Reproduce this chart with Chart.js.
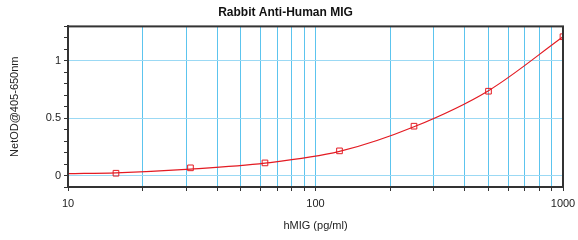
<!DOCTYPE html>
<html>
<head>
<meta charset="utf-8">
<script src="https://cdn.jsdelivr.net/npm/chart.js@4/dist/chart.umd.min.js"></script>
<style>
  html, body { margin: 0; padding: 0; background: #fff; }
  #wrap { width: 578px; height: 240px; }
</style>
</head>
<body>
<div id="wrap"><canvas id="myChart" width="578" height="240"></canvas></div>
<script>
// standards (pg/ml) and measured OD
var concentrations = [15.625, 31.25, 62.5, 125, 250, 500, 1000];
var netOD = [0.02, 0.067, 0.11, 0.215, 0.43, 0.735, 1.21];

// fitted curve
var fitX = [10, 15.625, 31.25, 62.5, 125, 250, 500, 1000];
var fitY = [0.016, 0.024, 0.056, 0.108, 0.21, 0.425, 0.74, 1.21];

var xGridValues = [10, 20, 30, 40, 50, 60, 70, 80, 90, 100, 200, 300, 400, 500, 600, 700, 800, 900, 1000];
var xTickLabels = [10, 100, 1000];
var yTickLabels = [0, 0.5, 1];

var font = "'Liberation Sans', Arial, sans-serif";
Chart.defaults.font.family = font;
Chart.defaults.color = "#222";

var boxPlugin = {
  id: "box",
  afterDraw: function (chart) {
    var a = chart.chartArea;
    var c = chart.ctx;
    c.save();
    c.strokeStyle = "#333";
    c.lineWidth = 2;
    c.strokeRect(a.left, a.top, a.right - a.left, a.bottom - a.top);
    c.restore();
  },
};

function isMajor(v, list) {
  for (var i = 0; i < list.length; i++) {
    if (Math.abs(v - list[i]) < 1e-6) return true;
  }
  return false;
}

var ctx = document.getElementById("myChart");
var myChart = new Chart(ctx, {
  type: "scatter",
  data: {
    datasets: [
      {
        label: "fit",
        data: fitX.map(function (x, i) { return { x: x, y: fitY[i] }; }),
        showLine: true,
        borderColor: "#e31b23",
        borderWidth: 1.2,
        pointRadius: 0,
        cubicInterpolationMode: "monotone",
      },
      {
        label: "Standards",
        data: concentrations.map(function (x, i) { return { x: x, y: netOD[i] }; }),
        showLine: false,
        pointStyle: "rect",
        pointRadius: 4,
        borderColor: "#e31b23",
        backgroundColor: "rgba(255,255,255,0)",
        borderWidth: 1,
      },
    ],
  },
  options: {
    responsive: false,
    animation: false,
    layout: { padding: { left: 8, right: 15, top: 0, bottom: 7 } },
    plugins: {
      legend: { display: false },
      tooltip: { enabled: false },
      title: {
        display: true,
        text: "Rabbit Anti-Human MIG",
        color: "#111",
        font: { size: 12, weight: "bold" },
        padding: { top: 5, bottom: 7 },
      },
    },
    scales: {
      x: {
        type: "logarithmic",
        min: 10,
        max: 1000,
        afterBuildTicks: function (s) {
          s.ticks = xGridValues.map(function (v) { return { value: v }; });
        },
        afterFit: function (s) {
          s.height = 46;
          s.paddingLeft = 0;
          s.paddingRight = 0;
        },
        border: { color: "#333", width: 2 },
        grid: {
          color: function (c) {
            var v = c.tick && c.tick.value;
            if (v === 10 || v === 1000) return "rgba(0,0,0,0)";
            return "#5cc4ee";
          },
          tickColor: "#333",
          tickLength: 4,
        },
        ticks: {
          autoSkip: false,
          maxRotation: 0,
          padding: 6,
          font: { size: 11 },
          callback: function (v) {
            return isMajor(v, xTickLabels) ? String(v) : "";
          },
        },
        title: {
          display: true,
          text: "hMIG (pg/ml)",
          font: { size: 11 },
          padding: { top: 4, bottom: 0 },
        },
      },
      y: {
        min: -0.1,
        max: 1.3,
        afterFit: function (s) { s.width = 60; },
        border: { color: "#333", width: 2 },
        grid: {
          color: function (c) {
            var v = c.tick && c.tick.value;
            return isMajor(v, yTickLabels) ? "#9bd9f4" : "rgba(0,0,0,0)";
          },
          tickColor: "#333",
          tickLength: 4,
        },
        ticks: {
          stepSize: 0.1,
          autoSkip: false,
          padding: 3,
          font: { size: 11 },
          callback: function (v) {
            if (!isMajor(v, yTickLabels)) return "";
            return String(Math.round(v * 10) / 10);
          },
        },
        title: {
          display: true,
          text: "NetOD@405-650nm",
          font: { size: 11 },
          padding: { top: 0, bottom: 0 },
        },
      },
    },
  },
  plugins: [boxPlugin],
});
</script>
</body>
</html>
